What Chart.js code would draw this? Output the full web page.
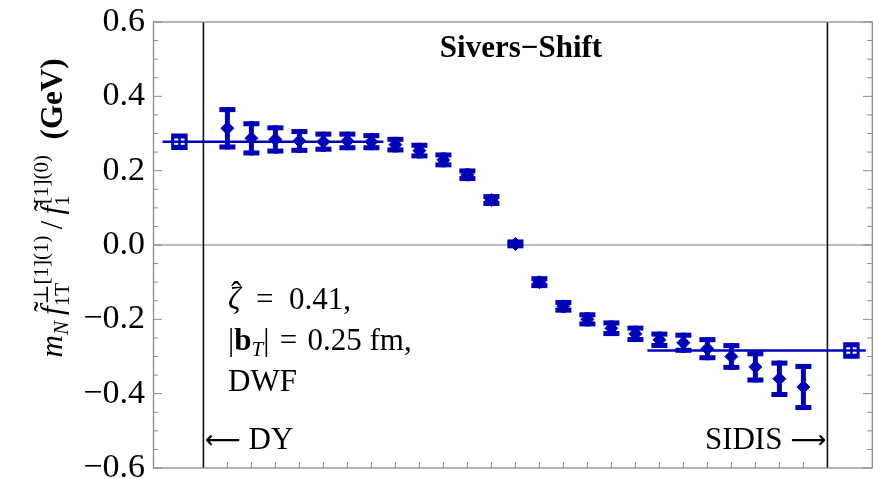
<!DOCTYPE html>
<html><head><meta charset="utf-8">
<script src="https://cdn.jsdelivr.net/npm/chart.js@4/dist/chart.umd.min.js"></script>
<style>html,body{margin:0;padding:0;background:#fff;overflow:hidden}</style>
</head><body>
<canvas id="c" width="873" height="479" style="width:873px;height:479px;display:block"></canvas>
<script>
// ---------- data ----------
const latticeX   = [1,2,3,4,5,6,7,8,9,10,11,12,13,14,15,16,17,18,19,20,21,22,23,24,25];
const latticeY   = [0.314,0.287,0.284,0.280,0.278,0.280,0.278,0.270,0.254,0.229,0.189,0.121,0.003,
                    -0.100,-0.165,-0.200,-0.224,-0.239,-0.255,-0.263,-0.279,-0.300,-0.328,-0.360,-0.382];
const latticeErr = [0.057,0.046,0.038,0.032,0.027,0.025,0.023,0.021,0.021,0.020,0.017,0.016,0.012,
                    0.016,0.017,0.019,0.021,0.022,0.022,0.027,0.031,0.036,0.042,0.049,0.062];
const dyX = [-1],    dyY = [0.278],    dyErr = [0.018];
const sidisX = [27], sidisY = [-0.284], sidisErr = [0.018];
const dyPlateauX = [-1.7, 7.5],   dyPlateauY = [0.278, 0.278];
const sidisPlateauX = [18.5, 27.6], sidisPlateauY = [-0.284, -0.284];
const boundaryX = [0, 26];
const yTickValues = [-0.6,-0.4,-0.2,0,0.2,0.4,0.6];

// ---------- style ----------
const BLUE = '#0000b8';
const SERIF = '"Liberation Serif","Times New Roman","DejaVu Serif",serif';
const toPts = (xs, ys) => xs.map((v,i)=>({x:v, y:ys[i]}));

function drawRich(ctx, parts, x, y, align){
  let cx = 0, items = [], prevStart = 0, prevW = 0;
  for (const p of parts){
    ctx.font = p.font;
    const w = ctx.measureText(p.t).width;
    if (p.accent){ items.push({p, x: prevStart + prevW/2 - w/2 + (p.dx||0)}); continue; }
    if (p.stack){
      const sx = prevStart + (p.dx||0);
      items.push({p, x: sx});
      prevW = Math.max(prevW, sx + w - prevStart);
      cx = Math.max(cx, sx + w);
      continue;
    }
    const sx = cx + (p.dx||0);
    items.push({p, x: sx});
    prevStart = sx; prevW = w; cx = sx + w;
  }
  const ox = align==='center' ? x - cx/2 : (align==='right' ? x - cx : x);
  for (const it of items){ ctx.font = it.p.font; ctx.fillText(it.p.t, ox + it.x, y + (it.p.dy||0)); }
  return cx;
}

const decor = {
  id: 'decor',
  beforeDatasetsDraw(chart){
    const {ctx, chartArea:a, scales:{x, y}} = chart;
    ctx.save();
    // zero line
    ctx.strokeStyle = '#7a7a7a'; ctx.lineWidth = 1.2;
    const y0 = y.getPixelForValue(0);
    ctx.beginPath(); ctx.moveTo(a.left, y0); ctx.lineTo(a.right, y0); ctx.stroke();
    // DY / SIDIS boundaries
    ctx.strokeStyle = '#111'; ctx.lineWidth = 1.6;
    boundaryX.forEach(v => { const px = x.getPixelForValue(v);
      ctx.beginPath(); ctx.moveTo(px, a.top); ctx.lineTo(px, a.bottom); ctx.stroke(); });
    // error bars
    chart.data.datasets.forEach(ds => {
      if (!ds.errors) return;
      ctx.strokeStyle = BLUE; ctx.fillStyle = BLUE; ctx.lineWidth = ds.barWidth;
      ds.data.forEach((pt, j) => {
        const px = x.getPixelForValue(pt.x);
        const top = y.getPixelForValue(pt.y + ds.errors[j]);
        const bot = y.getPixelForValue(pt.y - ds.errors[j]);
        ctx.beginPath(); ctx.moveTo(px, top); ctx.lineTo(px, bot); ctx.stroke();
        ctx.fillRect(px - ds.capWidth/2, top, ds.capWidth, ds.capThick);
        ctx.fillRect(px - ds.capWidth/2, bot - ds.capThick, ds.capWidth, ds.capThick);
      });
    });
    ctx.restore();
  },
  afterDraw(chart){
    const {ctx, chartArea:a, scales:{x, y}} = chart;
    ctx.save();
    // frame
    ctx.strokeStyle = '#8c8c8c'; ctx.lineWidth = 1.3;
    ctx.strokeRect(a.left + 0.5, a.top, a.right - a.left - 1.2, a.bottom - a.top);
    // y ticks (inward, both sides)
    ctx.lineWidth = 1;
    for (let k = 0; k <= 24; k++){
      const v = -0.6 + k*0.05;
      const py = y.getPixelForValue(v);
      const major = (k % 4 === 0);
      const len = major ? 9 : 5;
      ctx.beginPath();
      ctx.moveTo(a.left, py); ctx.lineTo(a.left + len, py);
      ctx.moveTo(a.right - 1, py); ctx.lineTo(a.right - 1 - len, py);
      ctx.stroke();
    }
    // x ticks (inward, bottom)
    latticeX.forEach(v => { const px = x.getPixelForValue(v);
      ctx.beginPath(); ctx.moveTo(px, a.bottom); ctx.lineTo(px, a.bottom - 6); ctx.stroke(); });

    ctx.fillStyle = '#000'; ctx.textBaseline = 'alphabetic';
    // title inside
    ctx.font = `bold 31px ${SERIF}`; ctx.textAlign = 'center';
    ctx.fillText('Sivers\u2212Shift', 521, 57);
    ctx.textAlign = 'left';
    const F = `31px ${SERIF}`, FI = `italic 31px ${SERIF}`, FB = `bold 31px ${SERIF}`;
    const S = `21px ${SERIF}`, SI = `italic 21px ${SERIF}`;
    const ARW = `25px "DejaVu Sans",sans-serif`;
    // annotation
    drawRich(ctx, [{t:'\u03B6', font:FI}, {t:'\u02C6', font:F, accent:true, dy:-6, dx:2},
                   {t:'\u2002=\u20020.41,', font:F}], 228, 309, 'left');
    drawRich(ctx, [{t:'|', font:F}, {t:'b', font:FB}, {t:'T', font:SI, dy:6},
                   {t:'|\u2004=\u20040.25 fm,', font:F}], 228, 350, 'left');
    drawRich(ctx, [{t:'DWF', font:F}], 228, 391, 'left');
    // region labels
    drawRich(ctx, [{t:'\u27F5', font:ARW, dy:-1}, {t:' DY', font:F}], 205, 449, 'left');
    drawRich(ctx, [{t:'SIDIS ', font:F}, {t:'\u27F6', font:ARW, dy:-1}], 826, 449, 'right');
    // y-axis title
    ctx.save();
    ctx.translate(62, 208); ctx.rotate(-Math.PI/2);
    drawRich(ctx, [
      {t:'m', font:FI}, {t:'N', font:SI, dy:6}, {t:'\u2009', font:F},
      {t:'f', font:FI}, {t:'\u02DC', font:F, accent:true, dy:-7, dx:4},
      {t:'1T', font:S, dy:7}, {t:'\u22A5[1](1)', font:S, dy:-14, stack:true, dx:2},
      {t:'\u2009/\u2009', font:F},
      {t:'f', font:FI}, {t:'\u02DC', font:F, accent:true, dy:-7, dx:4},
      {t:'1', font:S, dy:7}, {t:'[1](0)', font:S, dy:-14, stack:true, dx:2},
      {t:'\u2002(GeV)', font:FB}
    ], 0, 0, 'center');
    ctx.restore();
    ctx.restore();
  }
};

new Chart(document.getElementById('c'), {
  type: 'scatter',
  data: {
    datasets: [
      { data: toPts(dyPlateauX, dyPlateauY), showLine: true, borderColor: BLUE, borderWidth: 2.5, pointRadius: 0 },
      { data: toPts(sidisPlateauX, sidisPlateauY), showLine: true, borderColor: BLUE, borderWidth: 2.5, pointRadius: 0 },
      { data: toPts(latticeX, latticeY), errors: latticeErr, barWidth: 5, capWidth: 16, capThick: 5,
        pointStyle: 'rectRot', pointRadius: 6.5, backgroundColor: BLUE, borderColor: BLUE, borderWidth: 1 },
      { data: toPts(dyX, dyY), errors: dyErr, barWidth: 2.5, capWidth: 14, capThick: 3.5,
        pointStyle: 'rect', pointRadius: 9.5, backgroundColor: 'rgba(0,0,0,0)', borderColor: BLUE, borderWidth: 3 },
      { data: toPts(sidisX, sidisY), errors: sidisErr, barWidth: 2.5, capWidth: 14, capThick: 3.5,
        pointStyle: 'rect', pointRadius: 9.5, backgroundColor: 'rgba(0,0,0,0)', borderColor: BLUE, borderWidth: 3 }
    ]
  },
  options: {
    responsive: false, animation: false, devicePixelRatio: 1,
    layout: { autoPadding: false, padding: { top: 22, bottom: 11, left: 0, right: 0 } },
    plugins: { legend: { display: false }, tooltip: { enabled: false } },
    scales: {
      x: { type: 'linear', min: -2.1, max: 27.9, display: false },
      y: { type: 'linear', min: -0.6, max: 0.6,
           afterBuildTicks: s => { s.ticks = yTickValues.map(v => ({value: v})); },
           afterFit: s => { s.width = 153; s.paddingTop = 0; s.paddingBottom = 0; },
           grid: { display: false, drawTicks: false }, border: { display: false },
           ticks: { padding: 8, color: '#000', font: { family: SERIF, size: 34 },
                    callback: v => Math.abs(v) < 1e-9 ? '0.0' : (v < 0 ? '\u2212' : '') + Math.abs(v).toFixed(1) } }
    }
  },
  plugins: [decor]
});
</script>
</body></html>
